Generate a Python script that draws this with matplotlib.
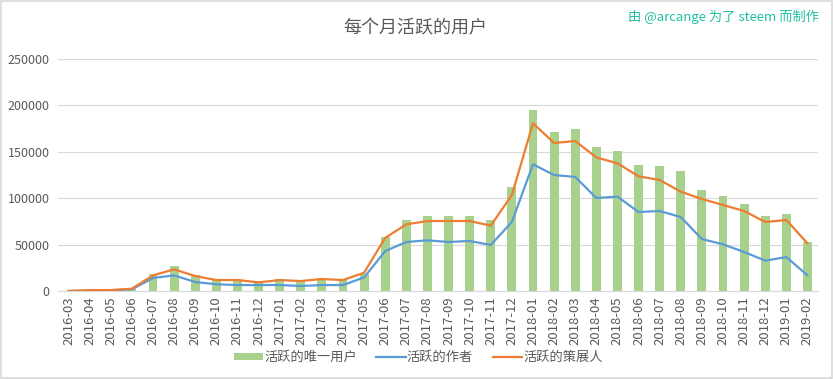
import matplotlib
matplotlib.use("Agg")
import matplotlib.pyplot as plt
from matplotlib.patches import Rectangle

plt.rcParams['font.family'] = ['Noto Sans CJK SC', 'DejaVu Sans']

# months shown on the x axis
months = ['2016-03', '2016-04', '2016-05', '2016-06', '2016-07', '2016-08',
          '2016-09', '2016-10', '2016-11', '2016-12', '2017-01', '2017-02',
          '2017-03', '2017-04', '2017-05', '2017-06', '2017-07', '2017-08',
          '2017-09', '2017-10', '2017-11', '2017-12', '2018-01', '2018-02',
          '2018-03', '2018-04', '2018-05', '2018-06', '2018-07', '2018-08',
          '2018-09', '2018-10', '2018-11', '2018-12', '2019-01', '2019-02']

# unique active users (bars)
unique_users = [0, 800, 900, 2500, 18600, 26500, 17500, 12500, 12500, 10400,
                12500, 10400, 13600, 12500, 18000, 58400, 76000, 80800,
                80800, 80800, 76100, 112000, 195000, 171300, 174600, 155200,
                150900, 135800, 134700, 129300, 108800, 102400, 93800, 80800,
                83000, 52800]

# active authors (blue line)
authors = [0, 500, 600, 1800, 14000, 16800, 9700, 7200, 6400, 6400,
           6400, 5400, 6400, 6400, 14700, 43000, 52800, 54600,
           52800, 53900, 49600, 74400, 136500, 125000, 122900, 100200,
           101700, 85100, 86200, 79700, 56000, 50300, 42000, 32700,
           36600, 16900]

# active curators (orange line)
curators = [0, 900, 1000, 2500, 16800, 23300, 16100, 11800, 11800, 9300,
            11800, 10700, 12900, 11800, 19700, 57300, 71800, 75400,
            75400, 75400, 70400, 103400, 180700, 159500, 161600, 144000,
            137600, 123600, 119600, 107000, 99100, 92700, 86200, 74400,
            76500, 51400]

yticks = [0, 50000, 100000, 150000, 200000, 250000]

fig = plt.figure(figsize=(8.33, 3.79), dpi=100)
ax = fig.add_axes([0.0696, 0.2322, 0.9124, 0.6121])

x = list(range(len(months)))
b = ax.bar(x, unique_users, width=0.42, color='#A9D18E', label='活跃的唯一用户', zorder=2)
l1, = ax.plot(x, authors, color='#5B9BD5', lw=1.6, label='活跃的作者', zorder=3)
l2, = ax.plot(x, curators, color='#ED7D31', lw=1.6, label='活跃的策展人', zorder=4)

ax.set_xlim(-0.5, len(months) - 0.5)
ax.set_ylim(0, 250000)
ax.set_yticks(yticks)
ax.set_yticklabels([str(v) for v in yticks])
ax.set_xticks(x)
ax.set_xticklabels(months, rotation=90)
ax.tick_params(axis='both', length=0, labelcolor='#595959')
ax.tick_params(axis='y', pad=6, labelsize=9)
ax.tick_params(axis='x', pad=4, labelsize=9.5)
ax.grid(axis='y', color='#D9D9D9', lw=0.8, zorder=0)
for s in ['top', 'right', 'left']:
    ax.spines[s].set_visible(False)
ax.spines['bottom'].set_color('#D9D9D9')
ax.spines['bottom'].set_linewidth(0.8)

fig.text(0.498, 0.925, '每个月活跃的用户', ha='center', va='center',
         fontsize=13, color='#595959')
fig.text(0.983, 0.955, '由 @arcange 为了 steem 而制作', ha='right', va='center',
         fontsize=9.5, color='#1FBF9F')

leg = fig.legend([b, l1, l2], ['活跃的唯一用户', '活跃的作者', '活跃的策展人'],
                 loc='center', bbox_to_anchor=(0.502, 0.056), ncol=3,
                 frameon=False, fontsize=9.5, handlelength=2.2, handleheight=0.4,
                 columnspacing=1.5, handletextpad=0.1)
for t in leg.get_texts():
    t.set_color('#595959')

fig.patches.append(Rectangle((0.001, 0.002), 0.998, 0.996, transform=fig.transFigure,
                             fill=False, edgecolor='#D9D9D9', lw=1.2))

fig.savefig('out.png', dpi=100, facecolor='white')
